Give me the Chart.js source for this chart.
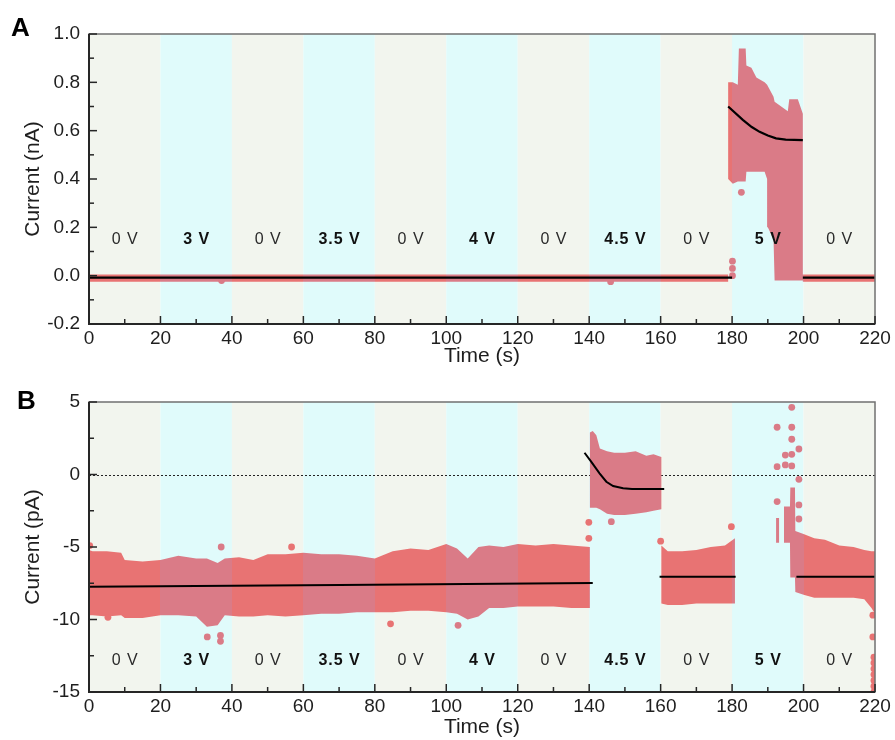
<!DOCTYPE html>
<html>
<head>
<meta charset="utf-8">
<script src="https://cdn.jsdelivr.net/npm/chart.js@4/dist/chart.umd.min.js"></script>
<style>
  html, body { margin: 0; padding: 0; background: #fff; }
  #wrap { position: relative; width: 895px; height: 740px; overflow: hidden; }
  canvas { position: absolute; left: 0; }
  .plabel { position: absolute; font: bold 26px 'Liberation Sans', Arial, sans-serif; color: #000; line-height: 26px; z-index: 2; }
</style>
</head>
<body>
<div id="wrap">
  <div class="plabel" style="left:11px; top:14px;">A</div>
  <div class="plabel" style="left:17px; top:387px;">B</div>
  <canvas id="cA" width="895" height="370" style="top:0px;"></canvas>
  <canvas id="cB" width="895" height="370" style="top:370px;"></canvas>
</div>
<script>
// ---------------- shared categories / ticks ----------------
const segEdges  = [0, 20, 40, 60, 80, 100, 120, 140, 160, 180, 200, 220];
const segLabels = ['0 V', '3 V', '0 V', '3.5 V', '0 V', '4 V', '0 V', '4.5 V', '0 V', '5 V', '0 V'];
const xTickValues = [0, 20, 40, 60, 80, 100, 120, 140, 160, 180, 200, 220];
const xTickLabels = ['0', '20', '40', '60', '80', '100', '120', '140', '160', '180', '200', '220'];

// ---------------- panel A (nA) ----------------
const aYTicks      = [-0.2, 0.0, 0.2, 0.4, 0.6, 0.8, 1.0];
const aYTickLabels = ['-0.2', '0.0', '0.2', '0.4', '0.6', '0.8', '1.0'];
const aLabelY = 0.148;
// envelope of the dense current trace
const aT    = [0, 178.9, 178.9, 180.2, 181.6, 181.9, 183.8, 184.0, 185.4, 186.8, 189.1, 189.8, 190.0, 191.6, 191.9, 195.6, 196.0, 198.4, 199.8, 199.8, 220];
const aLow  = [-0.025, -0.025, 0.40, 0.38, 0.39, 0.39, 0.39, 0.43, 0.43, 0.43, 0.43, 0.40, 0.20, 0.15, -0.02, -0.02, -0.02, -0.02, -0.02, -0.025, -0.025];
const aHigh = [0.005, 0.005, 0.80, 0.80, 0.79, 0.94, 0.94, 0.87, 0.86, 0.82, 0.80, 0.79, 0.79, 0.74, 0.72, 0.68, 0.73, 0.73, 0.67, 0.005, 0.005];
// isolated points
const aDotT = [37.1, 146.0, 180.1, 180.1, 180.1, 182.6];
const aDotV = [-0.02, -0.025, 0.0, 0.03, 0.06, 0.345];
// fitted curves
const aFitT = [0, 180, 180, 178.9, 183, 185.5, 187.7, 190, 192.3, 195, 199.8, 199.8, 199.8, 220];
const aFitV = [-0.008, -0.008, null, 0.70, 0.645, 0.615, 0.595, 0.58, 0.568, 0.563, 0.561, null, -0.008, -0.008];

// ---------------- panel B (pA) ----------------
const bYTicks      = [-15, -10, -5, 0, 5];
const bYTickLabels = ['-15', '-10', '-5', '0', '5'];
const bLabelY = -12.8;
const bT = [0, 1, 5, 9, 10, 15, 20, 25, 30, 33, 36, 38, 42, 46, 50, 55, 60, 65, 70, 75, 80, 85, 90, 95, 100, 103, 106, 109, 112, 116, 120, 125, 130, 135, 140.2,
            140.2, 141, 142, 143, 145, 147, 150, 153, 156, 158, 160.2,
            160.2, 162, 166, 170, 174, 178, 180.8,
            181,
            192.3, 193.2,
            193.5,
            194.5, 196.2, 196.3, 197.6, 197.7, 200, 203, 206, 210, 214, 217, 219, 220];
const bLow = [-9.7, -9.7, -9.8, -9.7, -9.9, -9.9, -9.7, -9.7, -9.8, -10.5, -10.4, -9.7, -9.8, -9.8, -9.7, -9.8, -9.7, -9.6, -9.6, -9.5, -9.5, -9.5, -9.4, -9.4, -9.5, -9.6, -10.0, -9.8, -9.2, -9.2, -9.1, -9.1, -9.1, -9.2, -9.2,
              -2.3, -2.3, -2.3, -2.4, -2.7, -2.8, -2.8, -2.7, -2.6, -2.5, -2.4,
              -8.9, -9.0, -9.0, -8.9, -8.9, -8.9, -8.9,
              null,
              -4.7, -4.7,
              null,
              -4.7, -4.7, -7.1, -7.1, -8.1, -8.3, -8.5, -8.5, -8.5, -8.5, -8.6, -9.2, -9.6];
const bHigh = [-5.2, -5.3, -5.3, -5.4, -5.9, -6.0, -5.9, -5.6, -5.8, -5.8, -6.1, -5.8, -5.7, -5.9, -5.5, -5.5, -5.4, -5.5, -5.5, -5.6, -5.8, -5.3, -5.1, -5.2, -4.8, -5.1, -5.8, -5.0, -4.9, -5.0, -4.8, -4.9, -4.8, -4.9, -5.0,
               2.9, 3.0, 2.7, 1.8, 1.6, 1.5, 1.5, 1.6, 1.3, 1.4, 1.2,
               -4.9, -5.3, -5.3, -5.2, -5.0, -4.9, -4.4,
               null,
               -3.0, -3.0,
               null,
               -2.2, -2.2, -0.9, -0.9, -3.9, -4.1, -4.4, -4.5, -4.9, -5.0, -5.2, -5.3, -5.3];
const bDotT = [0.2, 5.3, 33.1, 36.8, 36.8, 37.0, 56.7, 84.4, 103.3,
               139.9, 139.9, 146.2, 160.0, 179.8,
               192.6, 192.6, 192.6, 194.9, 194.9, 196.7, 196.7, 196.7, 196.7, 196.7, 198.7, 198.7, 198.7, 198.7,
               219.4, 219.4, 219.7, 219.7, 219.7, 219.7, 219.7, 219.7, 219.7];
const bDotV = [-4.9, -9.85, -11.2, -11.1, -11.5, -5.0, -5.0, -10.3, -10.4,
               -3.3, -4.4, -3.25, -4.6, -3.6,
               3.26, 0.54, -1.87, 1.34, 0.66, 4.63, 3.26, 2.43, 1.39, 0.59, 1.76, -0.33, -2.1, -3.07,
               -9.7, -11.2, -12.6, -13.0, -13.4, -13.8, -14.2, -14.6, -15.0];
const bFitT = [0, 70, 141, 141, 138.7, 140.5, 142.9, 144.8, 146.7, 149.5, 152, 161, 161, 159.7, 181, 181, 198, 220];
const bFitV = [-7.75, -7.62, -7.48, null, 1.5, 0.9, 0.08, -0.5, -0.8, -0.95, -1.0, -1.0, null, -7.05, -7.05, null, -7.05, -7.05];

// ---------------- styling ----------------
const COL = { bgOff: '#f2f5ee', bgOn: '#e0fbfb', ptOff: '#e87373', ptOn: '#da7b87', fit: '#000000' };
const FONT = "'Liberation Sans', Arial, sans-serif";
Chart.defaults.font.family = FONT;
Chart.defaults.color = '#1e1e1e';

function pts(ts, vs) { return ts.map((t, i) => ({ x: t, y: vs[i] })); }
function segIndex(t) {
  for (let i = 0; i < segLabels.length; i++) if (t < segEdges[i + 1]) return i;
  return segLabels.length - 1;
}
function isOn(t) { return segLabels[segIndex(t)] !== '0 V'; }

function bandFill(chart) {
  const xs = chart.scales.x, a = chart.chartArea;
  if (!xs || !a) return COL.ptOff;
  const g = chart.ctx.createLinearGradient(a.left, 0, a.right, 0);
  const w = a.right - a.left;
  for (let i = 0; i < segLabels.length; i++) {
    const c = segLabels[i] === '0 V' ? COL.ptOff : COL.ptOn;
    const f0 = Math.min(1, Math.max(0, (xs.getPixelForValue(segEdges[i]) - a.left) / w));
    const f1 = Math.min(1, Math.max(0, (xs.getPixelForValue(segEdges[i + 1]) - a.left) / w));
    g.addColorStop(f0, c);
    g.addColorStop(f1, c);
  }
  return g;
}

function makePanelPlugin(cfg) {
  return {
    id: 'panel' + cfg.name,
    beforeDraw(chart) {
      const { ctx, chartArea: a, scales: { x } } = chart;
      ctx.save();
      for (let i = 0; i < segLabels.length; i++) {
        const x0 = x.getPixelForValue(segEdges[i]);
        const x1 = x.getPixelForValue(segEdges[i + 1]);
        ctx.fillStyle = segLabels[i] === '0 V' ? COL.bgOff : COL.bgOn;
        ctx.fillRect(x0, a.top, x1 - x0, a.bottom - a.top);
      }
      ctx.restore();
    },
    beforeDatasetsDraw(chart) {
      if (!cfg.zeroLine) return;
      const { ctx, chartArea: a, scales: { y } } = chart;
      const py = Math.round(y.getPixelForValue(0)) + 0.5;
      ctx.save();
      ctx.strokeStyle = '#222';
      ctx.lineWidth = 1;
      ctx.setLineDash([2, 2]);
      ctx.beginPath();
      ctx.moveTo(a.left, py);
      ctx.lineTo(a.right, py);
      ctx.stroke();
      ctx.restore();
    },
    afterDatasetsDraw(chart) {
      const { ctx, chartArea: a, scales: { x, y } } = chart;
      ctx.save();
      // segment voltage labels
      ctx.textAlign = 'center';
      ctx.textBaseline = 'middle';
      if ('letterSpacing' in ctx) ctx.letterSpacing = '1px';
      const ly = y.getPixelForValue(cfg.labelY);
      for (let i = 0; i < segLabels.length; i++) {
        const cx = (x.getPixelForValue(segEdges[i]) + x.getPixelForValue(segEdges[i + 1])) / 2;
        const off = segLabels[i] === '0 V';
        ctx.font = (off ? '' : 'bold ') + '16px ' + FONT;
        ctx.fillStyle = off ? '#2a2a2a' : '#111';
        ctx.fillText(segLabels[i], cx + 0.5, ly);
      }
      if ('letterSpacing' in ctx) ctx.letterSpacing = '0px';
      // frame
      ctx.strokeStyle = '#707070';
      ctx.lineWidth = 1.5;
      ctx.strokeRect(a.left, a.top, a.right - a.left, a.bottom - a.top);
      ctx.strokeStyle = '#262626';
      ctx.lineWidth = 2;
      ctx.beginPath();
      ctx.moveTo(a.left, a.top);
      ctx.lineTo(a.left, a.bottom);
      ctx.lineTo(a.right, a.bottom);
      ctx.stroke();
      // inward ticks
      ctx.lineWidth = 1.5;
      const xt = xTickValues;
      for (let i = 0; i < xt.length; i++) {
        const px = x.getPixelForValue(xt[i]);
        ctx.beginPath(); ctx.moveTo(px, a.bottom); ctx.lineTo(px, a.bottom - 8); ctx.stroke();
        if (i < xt.length - 1) {
          const mx = x.getPixelForValue((xt[i] + xt[i + 1]) / 2);
          ctx.beginPath(); ctx.moveTo(mx, a.bottom); ctx.lineTo(mx, a.bottom - 5); ctx.stroke();
        }
      }
      const yt = cfg.yTicks;
      for (let i = 0; i < yt.length; i++) {
        const py = y.getPixelForValue(yt[i]);
        ctx.beginPath(); ctx.moveTo(a.left, py); ctx.lineTo(a.left + 8, py); ctx.stroke();
        if (i < yt.length - 1) {
          const my = y.getPixelForValue((yt[i] + yt[i + 1]) / 2);
          ctx.beginPath(); ctx.moveTo(a.left, my); ctx.lineTo(a.left + 5, my); ctx.stroke();
        }
      }
      ctx.restore();
    }
  };
}

function makeChart(id, cfg) {
  return new Chart(document.getElementById(id), {
    type: 'line',
    data: {
      datasets: [
        { data: pts(cfg.t, cfg.high), fill: '+1', backgroundColor: c => bandFill(c.chart),
          borderColor: 'rgba(0,0,0,0)', borderWidth: 0, pointRadius: 0, spanGaps: false, tension: 0, order: 3 },
        { data: pts(cfg.t, cfg.low), fill: false, borderColor: 'rgba(0,0,0,0)', borderWidth: 0,
          pointRadius: 0, spanGaps: false, tension: 0, order: 3 },
        { type: 'scatter', data: pts(cfg.dotT, cfg.dotV), pointRadius: 3.4, pointBorderWidth: 0,
          pointBackgroundColor: c => (c.raw && isOn(c.raw.x)) ? COL.ptOn : COL.ptOff, order: 2 },
        { data: pts(cfg.fitT, cfg.fitV), borderColor: COL.fit, borderWidth: cfg.fitW, pointRadius: 0,
          fill: false, spanGaps: false, tension: 0, order: 1 }
      ]
    },
    options: {
      responsive: false,
      animation: false,
      events: [],
      layout: { padding: { left: 0, right: 20, top: cfg.padTop, bottom: 0 } },
      plugins: { legend: { display: false }, tooltip: { enabled: false } },
      scales: {
        x: {
          type: 'linear', min: 0, max: 220,
          afterBuildTicks: s => { s.ticks = xTickValues.map(v => ({ value: v })); },
          ticks: { callback: (v, i) => xTickLabels[i], font: { size: 19 }, padding: 3, maxRotation: 0, autoSkip: false, color: '#1e1e1e' },
          grid: { display: false, drawTicks: false },
          border: { display: false },
          title: { display: true, text: 'Time (s)', font: { size: 21 }, color: '#1e1e1e', padding: { top: 0, bottom: cfg.xTitlePad } },
          afterFit: s => { s.height = cfg.xAxisH; }
        },
        y: {
          type: 'linear', min: cfg.yMin, max: cfg.yMax,
          afterBuildTicks: s => { s.ticks = cfg.yTicks.map(v => ({ value: v })); },
          ticks: { callback: (v, i) => cfg.yTickLabels[i], font: { size: 19 }, padding: 9, color: '#1e1e1e' },
          grid: { display: false, drawTicks: false },
          border: { display: false },
          title: { display: true, text: cfg.yTitle, font: { size: 21 }, color: '#1e1e1e', padding: { top: 21, bottom: 0 } },
          afterFit: s => { s.width = 89; }
        }
      }
    },
    plugins: [makePanelPlugin(cfg)]
  });
}

makeChart('cA', {
  name: 'A', t: aT, low: aLow, high: aHigh, dotT: aDotT, dotV: aDotV, fitT: aFitT, fitV: aFitV, fitW: 2.2,
  yMin: -0.2, yMax: 1.0, yTicks: aYTicks, yTickLabels: aYTickLabels, yTitle: 'Current (nA)',
  labelY: aLabelY, zeroLine: false, padTop: 34, xAxisH: 46, xTitlePad: 1
});
makeChart('cB', {
  name: 'B', t: bT, low: bLow, high: bHigh, dotT: bDotT, dotV: bDotV, fitT: bFitT, fitV: bFitV, fitW: 2,
  yMin: -15, yMax: 5, yTicks: bYTicks, yTickLabels: bYTickLabels, yTitle: 'Current (pA)',
  labelY: bLabelY, zeroLine: true, padTop: 32, xAxisH: 48, xTitlePad: 0
});
</script>
</body>
</html>
